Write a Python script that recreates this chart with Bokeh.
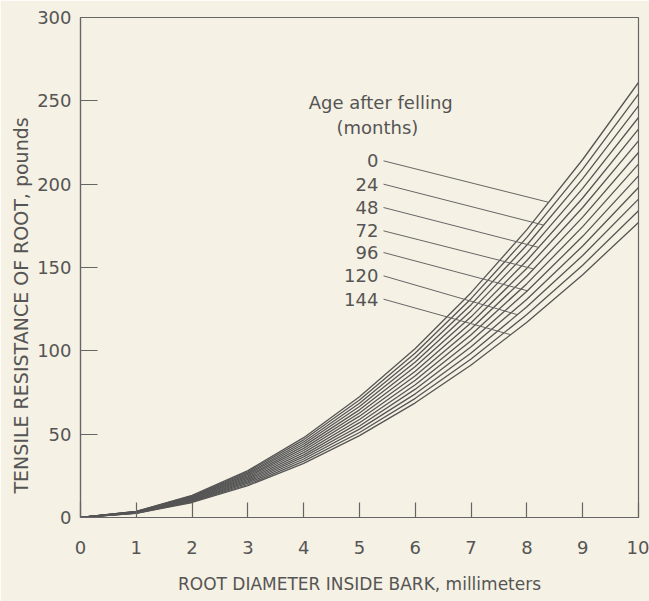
import numpy as np
from bokeh.plotting import figure
from bokeh.models import Range1d, Label, ColumnDataSource, FixedTicker, Title
from bokeh.core.properties import value
from bokeh.embed import file_html
from bokeh.resources import INLINE

# ---- data ----
diameter = [0, 1, 2, 3, 4, 5, 6, 7, 8, 9, 10]
ages = [0, 12, 24, 36, 48, 60, 72, 84, 96, 108, 120, 132, 144]
resistance = [
    [0, 3.7, 13.3, 28.1, 47.9, 72.4, 101.4, 134.9, 172.7, 214.8, 261],
    [0, 3.6, 12.9, 27.4, 46.6, 70.5, 98.7, 131.3, 168.1, 209.0, 254],
    [0, 3.5, 12.6, 26.6, 45.3, 68.5, 96.0, 127.7, 163.5, 203.3, 247],
    [0, 3.4, 12.2, 25.9, 44.1, 66.6, 93.3, 124.1, 158.8, 197.5, 240],
    [0, 3.3, 11.9, 25.1, 42.8, 64.6, 90.6, 120.4, 154.2, 191.7, 233],
    [0, 3.2, 11.5, 24.4, 41.5, 62.7, 87.8, 116.8, 149.6, 186.0, 226],
    [0, 3.1, 11.2, 23.6, 40.2, 60.8, 85.1, 113.2, 144.9, 180.2, 219],
    [0, 3.0, 10.8, 22.9, 38.9, 58.8, 82.4, 109.6, 140.3, 174.5, 212],
    [0, 2.9, 10.4, 22.1, 37.6, 56.9, 79.7, 106.0, 135.7, 168.7, 205],
    [0, 2.8, 10.1, 21.4, 36.4, 54.9, 77.0, 102.4, 131.0, 162.9, 198],
    [0, 2.7, 9.7, 20.6, 35.1, 53.0, 74.2, 98.7, 126.4, 157.2, 191],
    [0, 2.6, 9.4, 19.8, 33.8, 51.0, 71.5, 95.1, 121.8, 151.4, 184],
    [0, 2.5, 9.0, 19.1, 32.5, 49.1, 68.8, 91.5, 117.1, 145.7, 177],
]
label_ages = ["0", "24", "48", "72", "96", "120", "144"]
label_curve_index = [0, 2, 4, 6, 8, 10, 12]
label_x = [5.34] * 7
label_y = [214, 200, 186, 172, 159, 145, 131]
leader_start_x = [5.43] * 7
leader_end_x = [8.39, 8.30, 8.21, 8.12, 8.01, 7.83, 7.71]
x_ticks = [0, 1, 2, 3, 4, 5, 6, 7, 8, 9, 10]
y_ticks = [0, 50, 100, 150, 200, 250, 300]

BG = "#f5f1e4"
INK = "#555555"
FONT = "DejaVu Sans"

p = figure(width=649, height=601, output_backend="svg", toolbar_location=None,
           x_range=Range1d(0, 10), y_range=Range1d(0, 300),
           min_border_left=80, min_border_right=11, min_border_top=17,
           min_border_bottom=84)
p.background_fill_color = BG
p.border_fill_color = BG
p.outline_line_color = "#666666"
p.outline_line_width = 1.2
p.grid.visible = False

for ax, ticks in ((p.xaxis, x_ticks), (p.yaxis, y_ticks)):
    ax.ticker = FixedTicker(ticks=ticks)
    ax.minor_tick_line_color = None
    ax.major_tick_out = 0
    ax.axis_line_color = "#666666"
    ax.axis_line_width = 1.2
    ax.major_tick_line_color = "#666666"
    ax.major_tick_line_width = 1.2
    ax.major_label_text_font = FONT
    ax.major_label_text_font_size = "18px"
    ax.major_label_text_color = INK
    ax.axis_label_text_font = FONT
    ax.axis_label_text_font_style = "normal"
    ax.axis_label_text_color = INK
p.xaxis.major_tick_in = 15
p.yaxis.major_tick_in = 17
p.xaxis.major_label_standoff = 23
p.yaxis.major_label_standoff = 9
p.xaxis.axis_label = "ROOT DIAMETER INSIDE BARK, millimeters"
p.xaxis.axis_label_text_font_size = "17px"
p.xaxis.axis_label_standoff = 17

# y-axis title, placed lower than the frame centre as in the original
ytitle = Title(text="TENSILE RESISTANCE OF ROOT, pounds", align="left",
               offset=24, standoff=6, text_font=FONT, text_font_size="19px",
               text_font_style="normal", text_color=INK)
p.add_layout(ytitle, "left")

# curves
for row in resistance:
    p.line(diameter, row, line_color=INK, line_width=1.3)

# leader lines from labels to the curves
end_y = [float(np.interp(ex, diameter, resistance[ci]))
         for ex, ci in zip(leader_end_x, label_curve_index)]
p.segment(x0=leader_start_x, y0=label_y, x1=leader_end_x, y1=end_y,
          line_color="#666666", line_width=1.0)

src = ColumnDataSource(dict(x=label_x, y=label_y, t=label_ages))
p.text(x="x", y="y", text="t", source=src, text_align="right",
       text_baseline="middle", text_font=value(FONT), text_font_size="18px",
       text_color=INK)

p.add_layout(Label(x=5.38, y=249, text="Age after felling", text_align="center",
                   text_baseline="middle", text_font=FONT, text_font_size="18px",
                   text_color=INK))
p.add_layout(Label(x=5.32, y=234, text="(months)", text_align="center",
                   text_baseline="middle", text_font=FONT, text_font_size="18px",
                   text_color=INK))

html = file_html(p, INLINE)
html = html.replace("<body>", '<body style="background:%s">' % BG, 1)
open("out.html", "w").write(html)
